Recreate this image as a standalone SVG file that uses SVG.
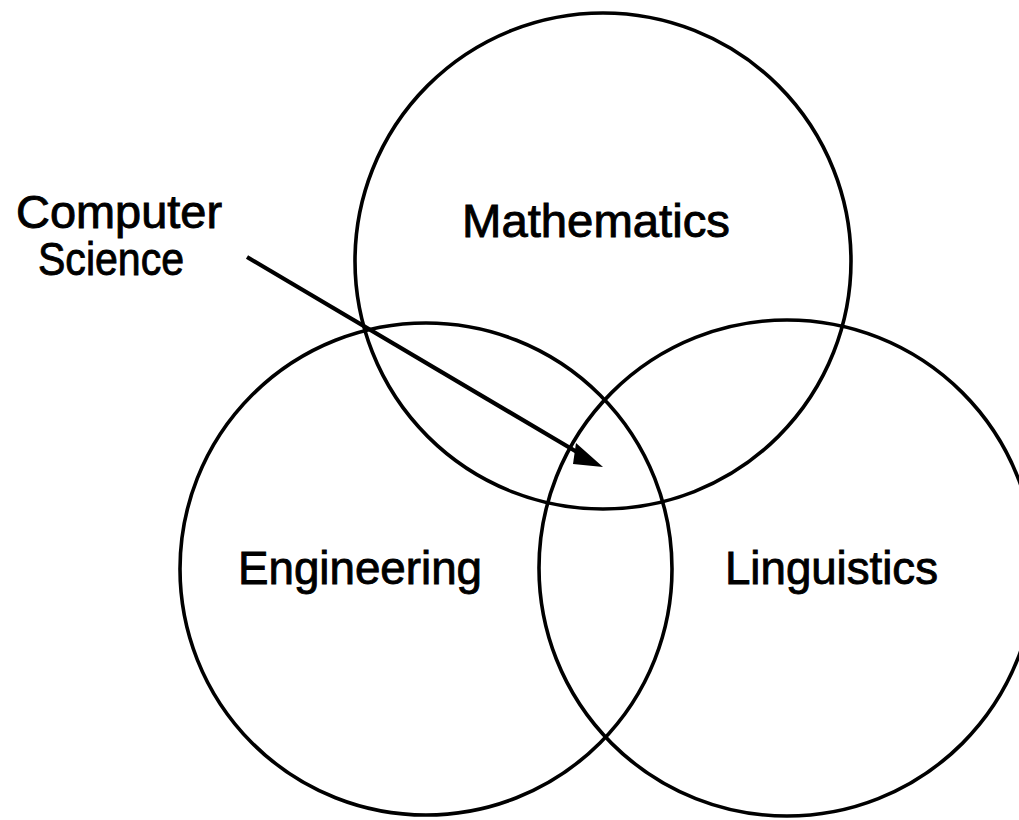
<svg xmlns="http://www.w3.org/2000/svg" width="1019" height="820" viewBox="0 0 1019 820">
<style>
.c{fill:none;stroke:#000;stroke-width:3.6}
.t{font-family:"Liberation Sans",Arial,sans-serif;font-size:46px;fill:#000;stroke:#000;stroke-width:0.9}
</style>
<rect width="1019" height="820" fill="#fff"/>
<g id="mathematics"><circle class="c" cx="603" cy="261" r="248"/><text class="t" x="462" y="237" textLength="268" lengthAdjust="spacingAndGlyphs">Mathematics</text></g>
<g id="engineering"><circle class="c" cx="426" cy="569" r="246"/><text class="t" x="238" y="584" textLength="244" lengthAdjust="spacingAndGlyphs">Engineering</text></g>
<g id="linguistics"><circle class="c" cx="787" cy="568" r="248"/><text class="t" x="725" y="584" textLength="213" lengthAdjust="spacingAndGlyphs">Linguistics</text></g>
<g id="computer-science"><text class="t" x="16" y="228" textLength="206" lengthAdjust="spacingAndGlyphs">Computer</text><text class="t" x="38" y="275" textLength="146" lengthAdjust="spacingAndGlyphs">Science</text></g>
<g id="connectors"><line x1="247" y1="257" x2="582" y2="455" stroke="#000" stroke-width="4.2"/><polygon points="603,467 576,443 573,464" fill="#000"/></g>
</svg>
